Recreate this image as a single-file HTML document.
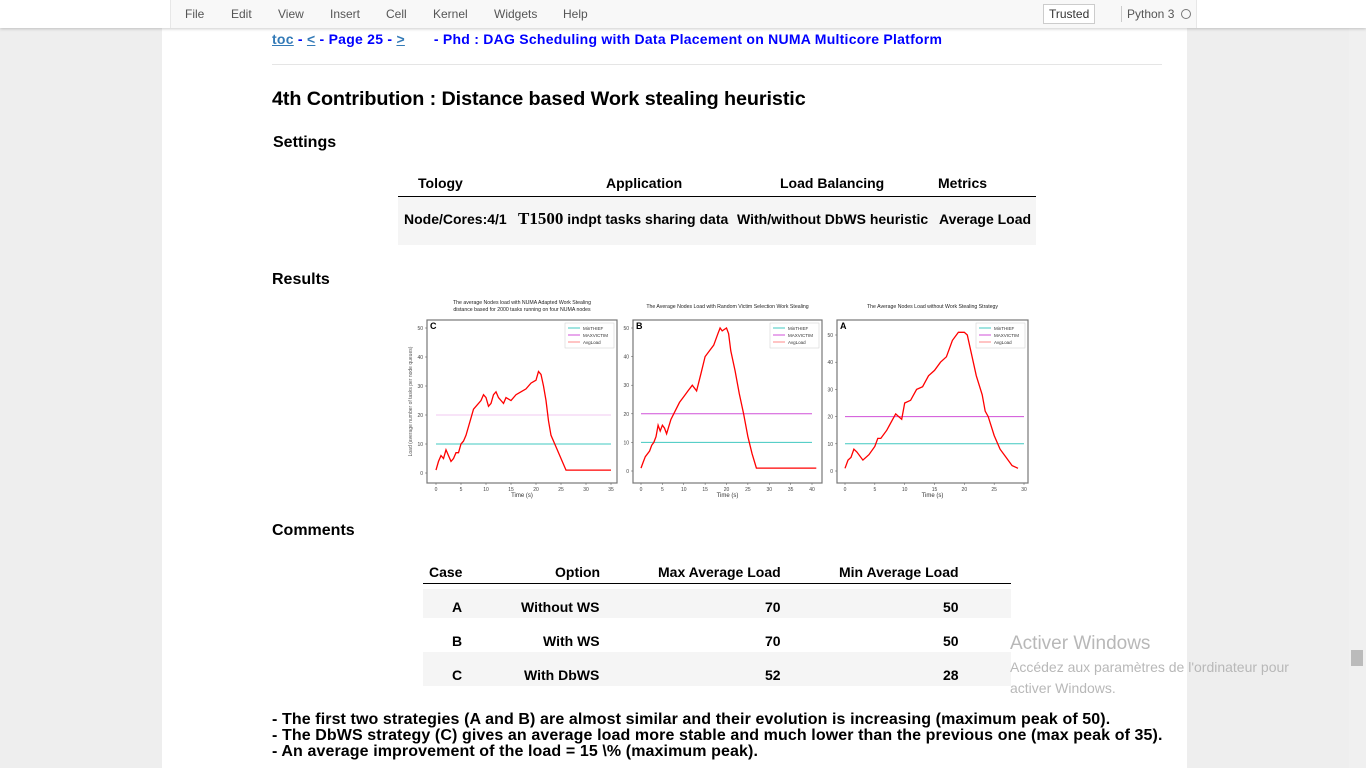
<!DOCTYPE html>
<html><head><meta charset="utf-8">
<style>
body{margin:0;width:1366px;height:768px;overflow:hidden;background:#eeeeee;font-family:"Liberation Sans",Arial,sans-serif;position:relative}
.abs{position:absolute;white-space:nowrap}
#menubar{position:absolute;left:0;top:0;width:1366px;height:28px;background:#fff;box-shadow:0 1px 3px rgba(0,0,0,.2);z-index:2}
#menuinner{position:absolute;left:170px;top:0;width:1025px;height:28px;background:#f8f8f8;border-left:1px solid #e7e7e7;border-right:1px solid #e7e7e7}
.mi{position:absolute;top:7px;font-size:12px;color:#555}
#page{position:absolute;left:162px;top:28px;width:1025px;height:740px;background:#fff}
.b{font-weight:bold;color:#000}
.th{font-size:14px;font-weight:bold}
.td{font-size:14px;font-weight:bold}
#scroll{position:absolute;left:1349px;top:28px;width:17px;height:740px;background:#f0f0f0}
</style></head><body>
<div id="menubar">
 <div id="menuinner">
  <span class="mi" style="left:14px">File</span>
  <span class="mi" style="left:60px">Edit</span>
  <span class="mi" style="left:107px">View</span>
  <span class="mi" style="left:159px">Insert</span>
  <span class="mi" style="left:215px">Cell</span>
  <span class="mi" style="left:262px">Kernel</span>
  <span class="mi" style="left:323px">Widgets</span>
  <span class="mi" style="left:392px">Help</span>
  <span class="mi" style="left:872px;top:4px;border:1px solid #ccc;padding:2px 5px;color:#333;background:#fff">Trusted</span>
  <span class="abs" style="left:950px;top:6px;width:1px;height:16px;background:#ccc"></span>
  <span class="mi" style="left:956px">Python 3</span>
  <span class="abs" style="left:1010px;top:9px;width:8px;height:8px;border:1.5px solid #777;border-radius:50%"></span>
 </div>
</div>
<div id="page"></div>
<div class="abs b" style="left:272px;top:31px;font-size:14px;letter-spacing:0.25px;color:#1a0dab"><u style="color:#337ab7">toc</u> <span style="color:#00f">-</span> <u style="color:#337ab7">&lt;</u><span style="color:#00f"> - Page 25 - </span><u style="color:#337ab7">&gt;</u><span style="color:#00f">&nbsp;&nbsp;&nbsp;&nbsp;&nbsp;&nbsp; - Phd : DAG Scheduling with Data Placement on NUMA Multicore Platform</span></div>
<div class="abs" style="left:272px;top:64px;width:890px;height:1px;background:#e5e5e5"></div>
<div class="abs b" style="left:272px;top:88px;font-size:19.8px;letter-spacing:-0.1px">4th Contribution : Distance based Work stealing heuristic</div>
<div class="abs b" style="left:273px;top:134px;font-size:16px">Settings</div>
<div class="abs" style="left:398px;top:196px;width:638px;height:1px;background:#000"></div>
<div class="abs" style="left:398px;top:197px;width:638px;height:48px;background:#f5f5f5"></div>
<div class="abs th" style="left:418px;top:175px">Tology</div>
<div class="abs th" style="left:606px;top:175px">Application</div>
<div class="abs th" style="left:780px;top:175px">Load Balancing</div>
<div class="abs th" style="left:938px;top:175px">Metrics</div>
<div class="abs td" style="left:404px;top:211px">Node/Cores:4/1</div>
<div class="abs td" style="left:518px;top:209px"><span style="font-family:'Liberation Serif',serif;font-size:17px">T1500</span> indpt tasks sharing data</div>
<div class="abs td" style="left:737px;top:211px">With/without DbWS heuristic</div>
<div class="abs td" style="left:939px;top:211px">Average Load</div>
<div class="abs b" style="left:272px;top:271px;font-size:16px">Results</div>

<svg class="abs" style="left:400px;top:296px" width="640" height="205" id="charts" font-family="Liberation Sans, sans-serif"></svg>

<div class="abs b" style="left:272px;top:522px;font-size:16px">Comments</div>
<div class="abs" style="left:423px;top:583px;width:588px;height:1px;background:#000"></div>
<div class="abs" style="left:423px;top:589px;width:588px;height:29px;background:#f5f5f5"></div>
<div class="abs" style="left:423px;top:652px;width:588px;height:34px;background:#f5f5f5"></div>
<div class="abs th" style="left:429px;top:564px">Case</div>
<div class="abs th" style="left:555px;top:564px">Option</div>
<div class="abs th" style="left:658px;top:564px">Max Average Load</div>
<div class="abs th" style="left:839px;top:564px">Min Average Load</div>
<div class="abs td" style="left:452px;top:599px">A</div><div class="abs td" style="left:521px;top:599px">Without WS</div><div class="abs td" style="left:765px;top:599px">70</div><div class="abs td" style="left:943px;top:599px">50</div>
<div class="abs td" style="left:452px;top:633px">B</div><div class="abs td" style="left:543px;top:633px">With WS</div><div class="abs td" style="left:765px;top:633px">70</div><div class="abs td" style="left:943px;top:633px">50</div>
<div class="abs td" style="left:452px;top:667px">C</div><div class="abs td" style="left:524px;top:667px">With DbWS</div><div class="abs td" style="left:765px;top:667px">52</div><div class="abs td" style="left:943px;top:667px">28</div>
<div class="abs b" style="left:272px;top:712px;font-size:16px;letter-spacing:0.1px;line-height:16px">- The first two strategies (A and B) are almost similar and their evolution is increasing (maximum peak of 50).<br>- The DbWS strategy (C) gives an average load more stable and much lower than the previous one (max peak of 35).<br>- An average improvement of the load = 15 \% (maximum peak).</div>
<div class="abs" style="left:1010px;top:633px;font-size:19px;color:#b8b8b8">Activer Windows</div>
<div class="abs" style="left:1010px;top:657px;font-size:14px;color:#b8b8b8;line-height:21px">Accédez aux paramètres de l'ordinateur pour<br>activer Windows.</div>
<div id="scroll"><div class="abs" style="left:2px;top:622px;width:12px;height:16px;background:#bbb"></div></div>

<script>
const cTime=[0,0.5,1,1.5,2,2.5,3,3.5,4,4.5,5,5.5,6,7,7.5,8,9,9.5,10,10.5,11,11.5,12,12.5,13,13.5,14,15,16,17,18,19,20,20.5,21,21.5,22,22.5,23,24,25,26,35];
const cLoad=[1,4,6,5,8,6,4,5,7,7,10,11,13,19,22,23,25,27,26,23,24,27,28,26,25,24,26,25,27,28,29,31,32,35,34,30,25,18,13,9,5,1,1];
const bTime=[0,0.5,1,2,2.5,3,3.5,4,4.5,5,5.5,6,7,8,9,10,11,12,13,14,15,16,17,18,18.5,19,20,20.5,21,22,23,24,25,26,27,41];
const bLoad=[1,3,5,7,9,10,12,16,14,16,15,13,18,21,24,26,28,30,28,34,40,42,44,48,50,49,50,48,42,35,27,20,12,6,1,1];
const aTime=[0,0.5,1,1.5,2,3,4,5,5.5,6,7,8,8.5,9,9.5,10,11,12,13,14,15,16,17,18,19,20,20.5,21,22,23,23.5,24,25,26,27,28,29];
const aLoad=[1,4,5,8,7,4,6,9,12,12,15,19,21,20,19,25,26,30,31,35,37,40,42,48,51,51,50,45,35,28,22,20,13,8,5,2,1];
const minThief=[10,10,10];
const maxVictim=[20,20,20];
const xTicksC=[0,5,10,15,20,25,30,35];
const xTicksB=[0,5,10,15,20,25,30,35,40];
const xTicksA=[0,5,10,15,20,25,30];
const yTicks=[0,10,20,30,40,50];
const titles=["The average Nodes load with NUMA Adapted Work Stealing|distance based for 2000 tasks running on four NUMA nodes","The Average Nodes Load with Random Victim Selection Work Stealing","The Average Nodes Load without Work Stealing Strategy"];
const letters=["C","B","A"];
const svg=document.getElementById('charts');
const NS="http://www.w3.org/2000/svg";
function mk(tag,attrs,parent){const e=document.createElementNS(NS,tag);for(const k in attrs)e.setAttribute(k,attrs[k]);parent.appendChild(e);return e;}
const panels=[
 {box:[27,24,190,163],x0:36,x1:211,xmax:35,y0:177,y50:32,time:cTime,load:cLoad,xt:xTicksC,pi:0},
 {box:[233,24,189,163],x0:241,x1:412,xmax:40,y0:175,y50:32,time:bTime,load:bLoad,xt:xTicksB,pi:1},
 {box:[437,24,191,163],x0:445,x1:624,xmax:30,y0:175,y50:39,time:aTime,load:aLoad,xt:xTicksA,pi:2}
];
panels.forEach(p=>{
 const g=mk('g',{},svg);
 
 
 const sx=v=>p.x0+(v/p.xmax)*(p.x1-p.x0);
 const sy=v=>p.y0-(v/50)*(p.y0-p.y50);
 const [bx,by,bw,bh]=p.box;
 const r=mk('rect',{x:bx,y:by,width:bw,height:bh,fill:'#fff',stroke:'#777','stroke-width':1.2},g);
 
 
 const tl=titles[p.pi].split('|');
 tl.forEach((t,i)=>{const tt=mk('text',{x:bx+bw/2,y:tl.length>1?8+i*7:12,'font-size':5.2,'text-anchor':'middle',fill:'#222'},g);tt.textContent=t;
  
  });
 const lt=mk('text',{x:bx+3,y:by+9,'font-size':9,'font-weight':'bold',fill:'#000'},g);lt.textContent=letters[p.pi];
 p.xt.forEach(v=>{mk('line',{x1:sx(v),x2:sx(v),y1:by+bh,y2:by+bh+2,stroke:'#555','stroke-width':.5},g);
  const t=mk('text',{x:sx(v),y:by+bh+8,'font-size':5,'text-anchor':'middle',fill:'#444'},g);t.textContent=v;
  
  });
 yTicks.forEach(v=>{mk('line',{x1:bx-2,x2:bx,y1:sy(v),y2:sy(v),stroke:'#555','stroke-width':.5},g);
  const t=mk('text',{x:bx-4,y:sy(v)+2,'font-size':5,'text-anchor':'end',fill:'#444'},g);t.textContent=v;
  
  });
 const xl=mk('text',{x:bx+bw/2,y:by+bh+14,'font-size':6,'text-anchor':'middle',fill:'#333'},g);xl.textContent='Time (s)';
 
 
 const l1=mk('line',{x1:sx(0),x2:sx(p.xmax),y1:sy(minThief[p.pi]),y2:sy(minThief[p.pi]),stroke:'#40c8c0','stroke-width':1},g);
 
 
 const l2=mk('line',{x1:sx(0),x2:sx(p.xmax),y1:sy(maxVictim[p.pi]),y2:sy(maxVictim[p.pi]),stroke:p.pi===0?'#f0c8f0':'#d050d8','stroke-width':1},g);
 
 
 const pts=p.time.map((t,i)=>sx(t).toFixed(1)+','+sy(p.load[i]).toFixed(1)).join(' ');
 const pl=mk('polyline',{points:pts,fill:'none',stroke:'#f00','stroke-width':1.3},g);
 
 
 const lx=bx+bw-52, ly=by+3;
 const lg=mk('g',{},g);
 
 
 mk('rect',{x:lx,y:ly,width:49,height:25,fill:'#fff',stroke:'#ccc','stroke-width':.5},lg);
 [['MinTHIEF','#40c8c0'],['MAXVICTIM','#d050d8'],['AvgLoad','#f88']].forEach((e,i)=>{
  mk('line',{x1:lx+3,x2:lx+15,y1:ly+5+i*7,y2:ly+5+i*7,stroke:e[1],'stroke-width':1},lg);
  const t=mk('text',{x:lx+18,y:ly+7+i*7,'font-size':4.5,fill:'#333'},lg);t.textContent=e[0];
  
  
 });
 if(p.pi===0){const yl=mk('text',{x:0,y:0,'font-size':5,fill:'#555',transform:`translate(12,${by+bh/2}) rotate(-90)`,'text-anchor':'middle'},g);
  yl.textContent='Load (average number of tasks per node queues)';
  
  }
});
</script>
</body></html>
